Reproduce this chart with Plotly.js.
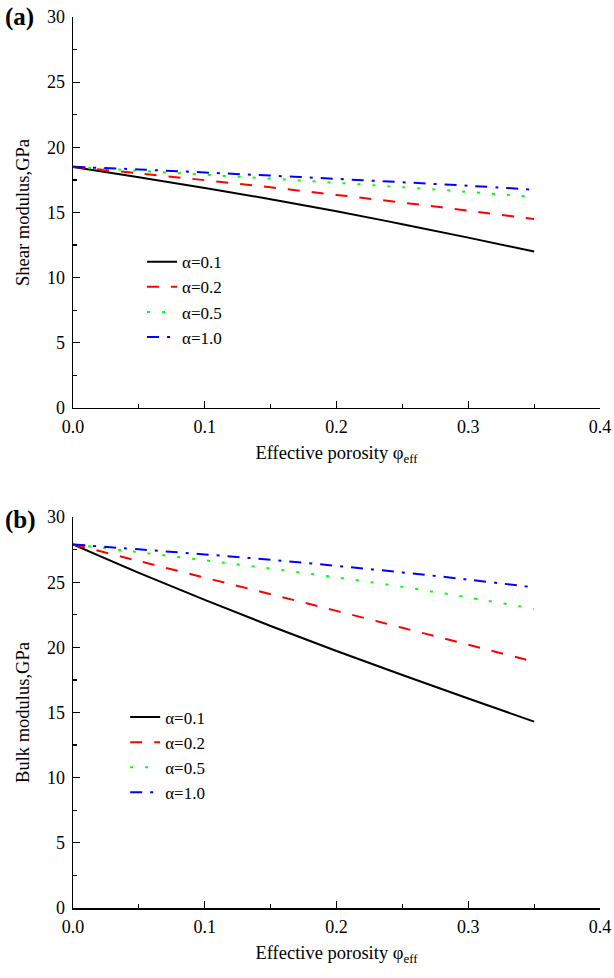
<!DOCTYPE html>
<html>
<head>
<meta charset="utf-8">
<script src="https://cdn.plot.ly/plotly-3.0.1.min.js"></script>
<style>html,body{margin:0;padding:0;background:#fff;}#chart{width:614px;height:978px;}</style>
</head>
<body>
<div id="chart"></div>
<script>
// Effective porosity values
const porosity = [0, 0.05, 0.10, 0.15, 0.20, 0.25, 0.30, 0.35];
const seriesNames = ['α=0.1', 'α=0.2', 'α=0.5', 'α=1.0'];

// (a) Shear modulus, GPa
const shear_a01 = [18.5, 17.7, 16.88, 16.02, 15.1, 14.1, 13.07, 12.0];
const shear_a02 = [18.5, 18.0, 17.48, 16.93, 16.35, 15.76, 15.14, 14.5];
const shear_a05 = [18.5, 18.2, 17.9, 17.6, 17.28, 16.94, 16.58, 16.2];
const shear_a10 = [18.5, 18.3, 18.07, 17.83, 17.58, 17.32, 17.05, 16.75];

// (b) Bulk modulus, GPa
const bulk_a01 = [27.9, 25.72, 23.64, 21.64, 19.72, 17.88, 16.08, 14.3];
const bulk_a02 = [27.9, 26.62, 25.35, 24.08, 22.8, 21.5, 20.2, 18.9];
const bulk_a05 = [27.9, 27.3, 26.68, 26.04, 25.37, 24.64, 23.83, 22.95];
const bulk_a10 = [27.9, 27.52, 27.13, 26.72, 26.25, 25.75, 25.2, 24.6];

const xTickVals = [0, 0.1, 0.2, 0.3, 0.4];
const yTickVals = [0, 5, 10, 15, 20, 25, 30];

const styles = [
  {color: '#000000', dash: 'solid'},
  {color: '#ff0000', dash: '12px,12px'},
  {color: '#00ff00', dash: '3px,12px'},
  {color: '#0000ff', dash: '12px,8px,3px,8px'}
];

const shearSets = [shear_a01, shear_a02, shear_a05, shear_a10];
const bulkSets = [bulk_a01, bulk_a02, bulk_a05, bulk_a10];

const traces = [];
shearSets.forEach((ys, i) => {
  traces.push({x: porosity, y: ys, name: seriesNames[i], type: 'scatter', mode: 'lines',
    xaxis: 'x', yaxis: 'y', legend: 'legend',
    line: {color: styles[i].color, dash: styles[i].dash, width: 2, shape: 'spline'}});
});
bulkSets.forEach((ys, i) => {
  traces.push({x: porosity, y: ys, name: seriesNames[i], type: 'scatter', mode: 'lines',
    xaxis: 'x2', yaxis: 'y2', legend: 'legend2',
    line: {color: styles[i].color, dash: styles[i].dash, width: 2, shape: 'spline'}});
});

const fam = 'Liberation Serif';
const tickFont = {family: fam, size: 18, color: '#000'};
const titleFont = {family: fam, size: 18.5, color: '#000'};
const legFont = {family: fam, size: 17, color: '#000'};

function xAxis(anchor) {
  return {
    domain: [0, 1], anchor: anchor, range: [0, 0.4], showgrid: false, zeroline: false,
    showline: true, linecolor: '#000', linewidth: 1.5, mirror: false,
    ticks: 'inside', ticklen: 7, tickwidth: 1.2, tickcolor: '#000',
    tickvals: xTickVals, tickformat: '.1f', tickfont: tickFont, ticklabelstandoff: 2,
    minor: {dtick: 0.05, ticks: 'inside', ticklen: 4, tickwidth: 1.2, tickcolor: '#000'},
    title: {text: 'Effective porosity φ<sub>eff</sub>', font: titleFont, standoff: 10}
  };
}
function yAxis(domain, anchor, title) {
  return {
    domain: domain, anchor: anchor, range: [0, 30], showgrid: false, zeroline: false,
    showline: true, linecolor: '#000', linewidth: 1.5, mirror: false,
    ticks: 'inside', ticklen: 7, tickwidth: 1.2, tickcolor: '#000',
    tickvals: yTickVals, tickfont: tickFont, ticklabelstandoff: 3,
    minor: {dtick: 2.5, ticks: 'inside', ticklen: 4, tickwidth: 1.2, tickcolor: '#000'},
    title: {text: title, font: titleFont, standoff: 12}
  };
}

const legendBase = {font: legFont, bgcolor: 'rgba(0,0,0,0)', borderwidth: 0,
  xanchor: 'left', yanchor: 'top', tracegroupgap: 0, itemclick: false};

const layout = {
  width: 614, height: 978,
  margin: {l: 73, r: 14, t: 17, b: 70},
  paper_bgcolor: '#fff', plot_bgcolor: '#fff',
  font: tickFont,
  showlegend: true,
  xaxis: xAxis('y'),
  yaxis: yAxis([0.5612, 1], 'x', 'Shear modulus,GPa'),
  xaxis2: xAxis('y2'),
  yaxis2: yAxis([0, 0.4388], 'x2', 'Bulk modulus,GPa'),
  legend: Object.assign({}, legendBase, {x: 0.131, y: 0.745}),
  legend2: Object.assign({}, legendBase, {x: 0.099, y: 0.234}),
  annotations: [
    {text: '<b>(a)</b>', xref: 'paper', yref: 'paper', x: -0.133, y: 1.0, xanchor: 'left', yanchor: 'middle',
      showarrow: false, font: {family: fam, size: 25, color: '#000'}},
    {text: '<b>(b)</b>', xref: 'paper', yref: 'paper', x: -0.133, y: 0.4355, xanchor: 'left', yanchor: 'middle',
      showarrow: false, font: {family: fam, size: 25, color: '#000'}}
  ]
};

Plotly.newPlot('chart', traces, layout, {displayModeBar: false, staticPlot: true});
</script>
</body>
</html>
